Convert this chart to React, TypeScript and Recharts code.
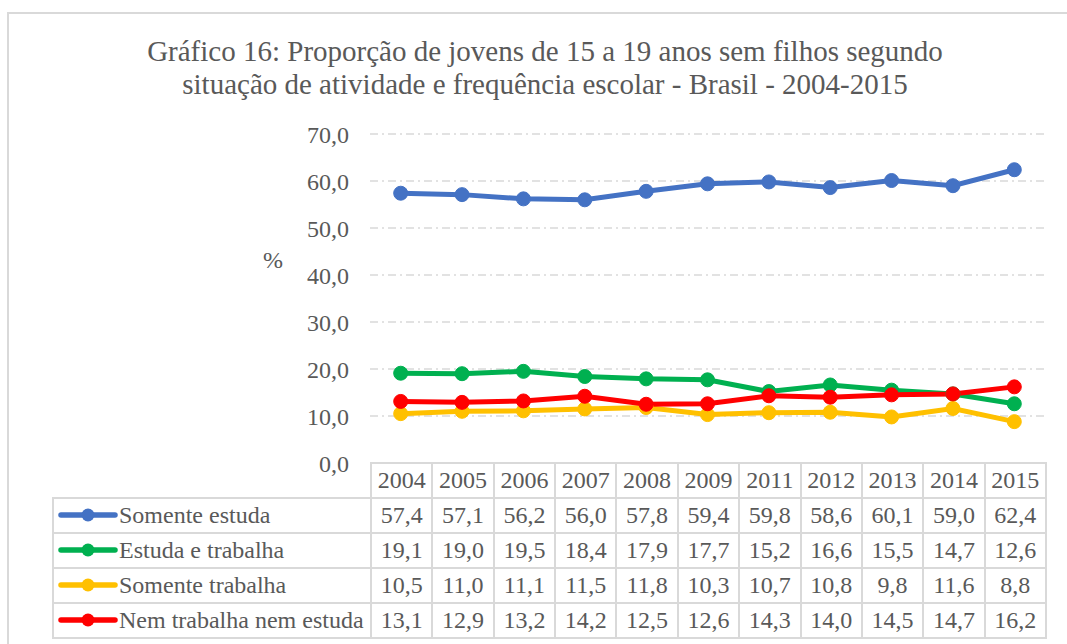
import { LineChart, Line, XAxis, YAxis, CartesianGrid } from "recharts";

const years = ["2004", "2005", "2006", "2007", "2008", "2009", "2011", "2012", "2013", "2014", "2015"];
const somenteEstuda = [57.4, 57.1, 56.2, 56.0, 57.8, 59.4, 59.8, 58.6, 60.1, 59.0, 62.4];
const estudaTrabalha = [19.1, 19.0, 19.5, 18.4, 17.9, 17.7, 15.2, 16.6, 15.5, 14.7, 12.6];
const somenteTrabalha = [10.5, 11.0, 11.1, 11.5, 11.8, 10.3, 10.7, 10.8, 9.8, 11.6, 8.8];
const nemNem = [13.1, 12.9, 13.2, 14.2, 12.5, 12.6, 14.3, 14.0, 14.5, 14.7, 16.2];
const yTicks = [0, 10, 20, 30, 40, 50, 60, 70];

const series = [
  { key: "se", name: "Somente estuda", color: "#4472C4", values: somenteEstuda },
  { key: "et", name: "Estuda e trabalha", color: "#00B050", values: estudaTrabalha },
  { key: "st", name: "Somente trabalha", color: "#FFC000", values: somenteTrabalha },
  { key: "nn", name: "Nem trabalha nem estuda", color: "#FF0000", values: nemNem },
];

const data = years.map((y, i) => {
  const row: Record<string, string | number> = { year: y };
  series.forEach((s) => (row[s.key] = s.values[i]));
  return row;
});

const FONT = "Liberation Serif";
const TEXT = "#595959";
const BORDER = "2px solid #d9d9d9";
const fmt = (v: number) => v.toFixed(1).replace(".", ",");

const cell: React.CSSProperties = {
  border: BORDER,
  padding: 0,
  height: 33,
  textAlign: "center",
  whiteSpace: "nowrap",
  fontFamily: FONT,
};

function LegendKey({ color }: { color: string }) {
  return (
    <svg width={60} height={16} style={{ verticalAlign: "middle", marginRight: 1, marginTop: -4 }}>
      <line x1={3} y1={8} x2={57} y2={8} stroke={color} strokeWidth={5.5} strokeLinecap="round" />
      <circle cx={30} cy={8} r={6.5} fill={color} />
    </svg>
  );
}

export default function App() {
  return (
    <div
      style={{
        position: "absolute", left: 0, top: 0, width: 1067, height: 644,
        overflow: "hidden", background: "#fff", fontFamily: FONT, color: TEXT,
      }}
    >
      <div style={{ position: "absolute", left: 7, top: 12, width: 1080, height: 660, border: BORDER }} />
      <div
        style={{
          position: "absolute", left: 0, width: 1090, top: 35, textAlign: "center",
          fontSize: 29, lineHeight: "32.5px", fontFamily: FONT, whiteSpace: "nowrap",
        }}
      >
        Gráfico 16: Proporção de jovens de 15 a 19 anos sem filhos segundo
        <br />
        situação de atividade e frequência escolar - Brasil - 2004-2015
      </div>
      <div style={{ position: "absolute", left: 263, top: 247, fontSize: 24, fontFamily: FONT }}>%</div>
      <div style={{ position: "absolute", left: 0, top: 0 }}>
        <LineChart
          width={1067}
          height={644}
          data={data}
          margin={{ top: 134, right: 22, bottom: 181, left: 310 }}
        >
          <CartesianGrid
            horizontal
            vertical={false}
            stroke="#d9d9d9"
            strokeWidth={1.5}
            strokeDasharray="8 4 2 4"
          />
          <XAxis dataKey="year" hide padding={{ left: 30.7, right: 30.7 }} />
          <YAxis
            width={60}
            domain={[0, 70]}
            ticks={yTicks}
            interval={0}
            axisLine={false}
            tickLine={false}
            tickSize={0}
            tickMargin={21}
            tickFormatter={fmt}
            tick={{ fill: TEXT, fontSize: 24, fontFamily: FONT }}
          />
          {series.map((s) => (
            <Line
              key={s.key}
              dataKey={s.key}
              name={s.name}
              stroke={s.color}
              strokeWidth={5}
              dot={{ r: 7, fill: s.color, stroke: s.color, strokeWidth: 1 }}
              isAnimationActive={false}
            />
          ))}
        </LineChart>
      </div>
      <table
        style={{
          position: "absolute", left: 52, top: 462, borderCollapse: "collapse",
          tableLayout: "fixed", width: 995, fontSize: 24, fontFamily: FONT, color: TEXT,
        }}
      >
        <colgroup>
          <col style={{ width: 318 }} />
          {years.map((y) => (
            <col key={y} style={{ width: 61.36 }} />
          ))}
        </colgroup>
        <tbody>
          <tr>
            <td style={{ ...cell, border: "none", borderRight: BORDER, borderBottom: BORDER }} />
            {years.map((y) => (
              <td key={y} style={cell}>{y}</td>
            ))}
          </tr>
          {series.map((s) => (
            <tr key={s.key}>
              <td style={{ ...cell, textAlign: "left", paddingLeft: 4 }}>
                <LegendKey color={s.color} />
                {s.name}
              </td>
              {s.values.map((v, i) => (
                <td key={i} style={cell}>{fmt(v)}</td>
              ))}
            </tr>
          ))}
        </tbody>
      </table>
    </div>
  );
}
